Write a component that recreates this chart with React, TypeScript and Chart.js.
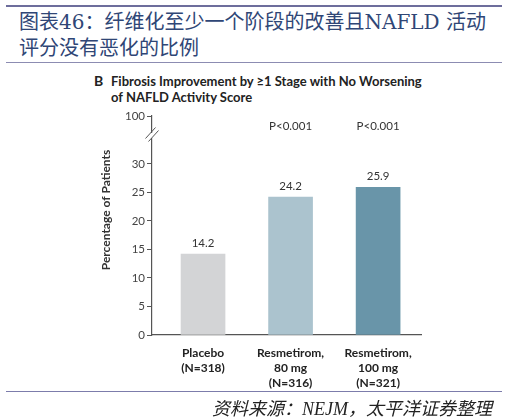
import React, { useEffect, useRef } from 'react';
import Chart from 'chart.js/auto';

// 数据
const groupLabels = [
  ['Placebo', '(N=318)'],
  ['Resmetirom,', '80 mg', '(N=316)'],
  ['Resmetirom,', '100 mg', '(N=321)'],
];
const groupIndex = [0, 1, 2];
const percentages = [14.2, 24.2, 25.9];
const pValues = ['', 'P<0.001', 'P<0.001'];
const barColors = ['#d3d4d6', '#abc3ce', '#6995a9'];
const yTicks = [0, 5, 10, 15, 20, 25, 30];
// eje cortado: la marca "100" se dibuja por encima del corte
const breakTick = 38.4;
const breakLabel = '100';

const FONT = 'Lato, "Open Sans", sans-serif';
const AXIS = '#555';

const labelsPlugin = {
  id: 'valueLabels',
  afterDatasetsDraw(chart: any) {
    const ctx = chart.ctx;
    const meta = chart.getDatasetMeta(0);
    ctx.save();
    ctx.fillStyle = '#333';
    ctx.textAlign = 'center';
    ctx.textBaseline = 'alphabetic';
    ctx.font = `11.5px ${FONT}`;
    meta.data.forEach((bar: any, i: number) => {
      ctx.fillText(percentages[i].toFixed(1), bar.x, bar.y - 7);
      if (pValues[i]) ctx.fillText(pValues[i], bar.x, chart.chartArea.top + 14);
    });
    ctx.restore();
  },
  afterDraw(chart: any) {
    const ctx = chart.ctx;
    const x = chart.scales.y.left + chart.scales.y.width;
    const yMid = chart.chartArea.top + 19;
    ctx.save();
    // hueco del eje
    ctx.fillStyle = '#fff';
    ctx.fillRect(x - 2, yMid - 2, 4, 5);
    ctx.strokeStyle = AXIS;
    ctx.lineWidth = 1;
    [-1.5, 1.5].forEach((d) => {
      ctx.beginPath();
      ctx.moveTo(x - 5 + d, yMid + 5 + d);
      ctx.lineTo(x + 5 + d, yMid - 6 + d);
      ctx.stroke();
    });
    // título del eje y
    ctx.translate(106, 210);
    ctx.rotate(-Math.PI / 2);
    ctx.fillStyle = '#333';
    ctx.font = `bold 12px ${FONT}`;
    ctx.textAlign = 'center';
    ctx.textBaseline = 'middle';
    ctx.fillText('Percentage of Patients', 0, 0);
    ctx.restore();
  },
};

const BarChart: React.FC = () => {
  const chartRef = useRef<HTMLCanvasElement | null>(null);
  const chartInstance = useRef<Chart | null>(null);

  useEffect(() => {
    const ctx = chartRef.current?.getContext('2d');
    if (!ctx) return;
    if (chartInstance.current) chartInstance.current.destroy();
    //@ts-ignore
    chartInstance.current = new Chart(ctx, {
      type: 'bar',
      data: {
        datasets: [
          {
            data: groupIndex.map((g, i) => ({ x: g, y: percentages[i] })),
            backgroundColor: barColors,
            barThickness: 44,
            borderWidth: 0,
          },
        ],
      },
      options: {
        animation: false,
        responsive: false,
        layout: { padding: { left: 95, top: 116, right: 86, bottom: 24 } },
        plugins: { legend: { display: false }, tooltip: { enabled: false } },
        scales: {
          x: {
            type: 'linear',
            offset: false,
            min: -0.583,
            max: 2.49,
            afterBuildTicks: (s: any) => {
              s.ticks = groupIndex.map((v) => ({ value: v }));
            },
            afterFit: (s: any) => {
              s.height = 60;
            },
            grid: { display: false },
            border: { color: AXIS, width: 1.2 },
            ticks: {
              autoSkip: false,
              maxRotation: 0,
              padding: 3,
              color: '#222',
              font: { family: FONT, size: 12, weight: 'bold', lineHeight: 1.25 },
              callback: (v: any) => groupLabels[v],
            },
          },
          y: {
            min: 0,
            max: breakTick,
            afterBuildTicks: (s: any) => {
              s.ticks = [...yTicks, breakTick].map((v) => ({ value: v }));
            },
            afterFit: (s: any) => {
              s.width = 57;
            },
            grid: { drawOnChartArea: false, drawTicks: true, tickLength: 5, color: AXIS },
            border: { color: AXIS, width: 1.2 },
            ticks: {
              padding: 2,
              color: '#444',
              font: { family: FONT, size: 11.5 },
              callback: (v: any) => (v === breakTick ? breakLabel : String(v)),
            },
          },
        },
      },
      plugins: [labelsPlugin],
    });
    return () => {
      if (chartInstance.current) {
        chartInstance.current.destroy();
        chartInstance.current = null;
      }
    };
  }, []);

  return <canvas ref={chartRef} width={507} height={419} style={{ position: 'absolute', left: 0, top: 0 }} />;
};

const App: React.FC = () => {
  const rule = (top: number, h: number, color: string) => (
    <div style={{ position: 'absolute', left: 6, width: 496, top, height: h, background: color }} />
  );
  return (
    <div style={{ position: 'absolute', left: 0, top: 0, width: 507, height: 419, background: '#fff', overflow: 'hidden' }}>
      {rule(5, 2, '#6d6d9c')}
      <div
        style={{
          position: 'absolute',
          left: 19,
          top: 9,
          width: 490,
          fontFamily: '"DejaVu Serif", "Noto Sans CJK SC", serif',
          fontSize: 20,
          lineHeight: '26px',
          color: '#2f4676',
          whiteSpace: 'nowrap',
        }}
      >
        <div>图表46：纤维化至少一个阶段的改善且NAFLD 活动</div>
        <div>评分没有恶化的比例</div>
      </div>
      {rule(62, 1, '#8c8cb2')}
      <div style={{ position: 'absolute', left: 94, top: 73, fontFamily: FONT, fontWeight: 'bold', fontSize: 13, color: '#222', lineHeight: '16px' }}>
        <div style={{ position: 'absolute', left: 0, top: 0, fontSize: 14 }}>B</div>
        <div style={{ position: 'absolute', left: 17, top: 0, whiteSpace: 'nowrap' }}>
          Fibrosis Improvement by ≥1 Stage with No Worsening
          <br />
          of NAFLD Activity Score
        </div>
      </div>
      <BarChart />
      {rule(391, 1, '#7c7cab')}
      <div
        style={{
          position: 'absolute',
          right: 15,
          top: 394,
          fontFamily: '"Liberation Serif", "Noto Sans CJK SC", serif',
          fontStyle: 'italic',
          fontSize: 18,
          color: '#222',
          whiteSpace: 'nowrap',
        }}
      >
        资料来源：NEJM，太平洋证券整理
      </div>
    </div>
  );
};

export default App;
